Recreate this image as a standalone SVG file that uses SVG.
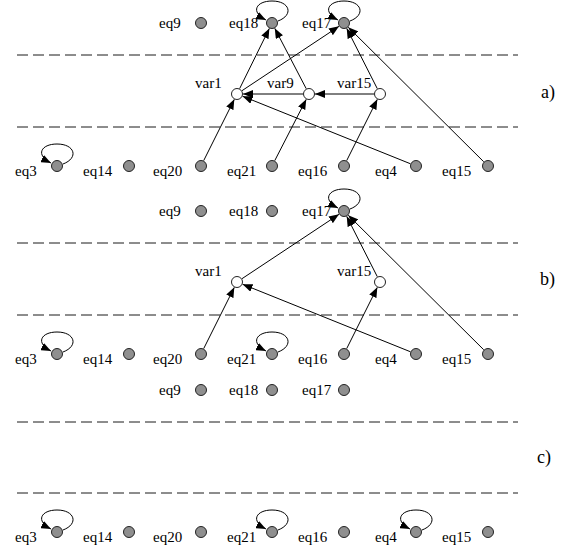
<svg xmlns="http://www.w3.org/2000/svg" width="565" height="546" viewBox="0 0 565 546">
<style>
  text { font-size: 15px; fill: #000; }
  text.panel { font-size: 18px; }
  .eq { fill: #8f8f8f; stroke: #222; stroke-width: 1; }
  .var { fill: #fff; stroke: #222; stroke-width: 1; }
  .edge { fill: none; stroke: #000; stroke-width: 1; marker-end: url(#arr); }
  .sep { stroke: #1a1a1a; stroke-width: 1; stroke-dasharray: 11 5; }
</style>
<defs>
  <marker id="arr" markerUnits="userSpaceOnUse" markerWidth="10" markerHeight="8" refX="10" refY="4" orient="auto">
    <path d="M0,0 L10,4 L0,8 z" fill="#000"/>
  </marker>
</defs>
<rect width="565" height="546" fill="#fff"/>

<g id="separators">
  <line class="sep" x1="17" y1="55" x2="518" y2="55"/>
  <line class="sep" x1="17" y1="127" x2="518" y2="127"/>
  <line class="sep" x1="17" y1="243" x2="518" y2="243"/>
  <line class="sep" x1="17" y1="315" x2="518" y2="315"/>
  <line class="sep" x1="17" y1="422" x2="518" y2="422"/>
  <line class="sep" x1="17" y1="493" x2="518" y2="493"/>
</g>

<g font-family="'Liberation Serif', 'Times New Roman', serif">
<g id="panel-labels">
  <text class="panel" x="541" y="98">a)</text>
  <text class="panel" x="540" y="285">b)</text>
  <text class="panel" x="537" y="463">c)</text>
</g>

<g id="connectors">
  <!-- a) -->
  <line class="edge" x1="239.65" y1="88.62" x2="269.35" y2="28.38"/>
  <line class="edge" x1="306.23" y1="88.68" x2="274.77" y2="28.32"/>
  <line class="edge" x1="242.0" y1="90.68" x2="339.0" y2="26.32"/>
  <line class="edge" x1="377.29" y1="88.65" x2="346.71" y2="28.35"/>
  <line class="edge" x1="483.74" y1="161.77" x2="348.26" y2="27.23"/>
  <line class="edge" x1="303" y1="94" x2="243" y2="94"/>
  <line class="edge" x1="374" y1="94" x2="315" y2="94"/>
  <line class="edge" x1="203.68" y1="160.63" x2="234.32" y2="99.37"/>
  <line class="edge" x1="274.74" y1="160.66" x2="306.26" y2="99.34"/>
  <line class="edge" x1="346.68" y1="160.63" x2="377.32" y2="99.37"/>
  <line class="edge" x1="410.43" y1="163.76" x2="242.57" y2="96.24"/>
  <path class="edge" d="M278,21 C294,15 290,1 272,1 C256,1 250,12 266,20"/>
  <path class="edge" d="M350,21 C366,15 362,1 344,1 C328,1 322,12 338,20"/>
  <path class="edge" d="M63,164 C79,158 75,144 57,144 C41,144 35,155 51,163"/>
  <!-- b) -->
  <line class="edge" x1="242.0" y1="278.68" x2="339.0" y2="214.32"/>
  <line class="edge" x1="377.29" y1="276.65" x2="346.71" y2="216.35"/>
  <line class="edge" x1="483.74" y1="349.77" x2="348.26" y2="215.23"/>
  <line class="edge" x1="203.68" y1="348.63" x2="234.32" y2="287.37"/>
  <line class="edge" x1="346.68" y1="348.63" x2="377.32" y2="287.37"/>
  <line class="edge" x1="410.43" y1="351.76" x2="242.57" y2="284.24"/>
  <path class="edge" d="M350,209 C366,203 362,189 344,189 C328,189 322,200 338,208"/>
  <path class="edge" d="M63,352 C79,346 75,332 57,332 C41,332 35,343 51,351"/>
  <path class="edge" d="M278,352 C294,346 290,332 272,332 C256,332 250,343 266,351"/>
  <!-- c) -->
  <path class="edge" d="M63,530 C79,524 75,510 57,510 C41,510 35,521 51,529"/>
  <path class="edge" d="M278,530 C294,524 290,510 272,510 C256,510 250,521 266,529"/>
  <path class="edge" d="M422,530 C438,524 434,510 416,510 C400,510 394,521 410,529"/>
</g>

<!-- a) nodes -->
<g id="a-eq9"><circle class="eq" cx="201" cy="23" r="5.5"/><text x="159" y="28">eq9</text></g>
<g id="a-eq18"><circle class="eq" cx="272" cy="23" r="5.5"/><text x="229" y="28">eq18</text></g>
<g id="a-eq17"><circle class="eq" cx="344" cy="23" r="5.5"/><text x="302" y="28">eq17</text></g>
<g id="a-var1"><circle class="var" cx="237" cy="94" r="5.5"/><text x="195" y="88">var1</text></g>
<g id="a-var9"><circle class="var" cx="309" cy="94" r="5.5"/><text x="267" y="88">var9</text></g>
<g id="a-var15"><circle class="var" cx="380" cy="94" r="5.5"/><text x="337" y="88">var15</text></g>
<g id="a-eq3"><circle class="eq" cx="57" cy="166" r="5.5"/><text x="15" y="176">eq3</text></g>
<g id="a-eq14"><circle class="eq" cx="129" cy="166" r="5.5"/><text x="83" y="176">eq14</text></g>
<g id="a-eq20"><circle class="eq" cx="201" cy="166" r="5.5"/><text x="153" y="176">eq20</text></g>
<g id="a-eq21"><circle class="eq" cx="272" cy="166" r="5.5"/><text x="227" y="176">eq21</text></g>
<g id="a-eq16"><circle class="eq" cx="344" cy="166" r="5.5"/><text x="298" y="176">eq16</text></g>
<g id="a-eq4"><circle class="eq" cx="416" cy="166" r="5.5"/><text x="375" y="176">eq4</text></g>
<g id="a-eq15"><circle class="eq" cx="488" cy="166" r="5.5"/><text x="442" y="176">eq15</text></g>

<!-- b) nodes -->
<g id="b-eq9"><circle class="eq" cx="201" cy="211" r="5.5"/><text x="159" y="216">eq9</text></g>
<g id="b-eq18"><circle class="eq" cx="272" cy="211" r="5.5"/><text x="229" y="216">eq18</text></g>
<g id="b-eq17"><circle class="eq" cx="344" cy="211" r="5.5"/><text x="302" y="216">eq17</text></g>
<g id="b-var1"><circle class="var" cx="237" cy="282" r="5.5"/><text x="195" y="276">var1</text></g>
<g id="b-var15"><circle class="var" cx="380" cy="282" r="5.5"/><text x="337" y="276">var15</text></g>
<g id="b-eq3"><circle class="eq" cx="57" cy="354" r="5.5"/><text x="15" y="364">eq3</text></g>
<g id="b-eq14"><circle class="eq" cx="129" cy="354" r="5.5"/><text x="83" y="364">eq14</text></g>
<g id="b-eq20"><circle class="eq" cx="201" cy="354" r="5.5"/><text x="153" y="364">eq20</text></g>
<g id="b-eq21"><circle class="eq" cx="272" cy="354" r="5.5"/><text x="227" y="364">eq21</text></g>
<g id="b-eq16"><circle class="eq" cx="344" cy="354" r="5.5"/><text x="298" y="364">eq16</text></g>
<g id="b-eq4"><circle class="eq" cx="416" cy="354" r="5.5"/><text x="375" y="364">eq4</text></g>
<g id="b-eq15"><circle class="eq" cx="488" cy="354" r="5.5"/><text x="442" y="364">eq15</text></g>

<!-- c) nodes -->
<g id="c-eq9"><circle class="eq" cx="201" cy="390" r="5.5"/><text x="159" y="395">eq9</text></g>
<g id="c-eq18"><circle class="eq" cx="272" cy="390" r="5.5"/><text x="229" y="395">eq18</text></g>
<g id="c-eq17"><circle class="eq" cx="344" cy="390" r="5.5"/><text x="302" y="395">eq17</text></g>
<g id="c-eq3"><circle class="eq" cx="57" cy="532" r="5.5"/><text x="15" y="542">eq3</text></g>
<g id="c-eq14"><circle class="eq" cx="129" cy="532" r="5.5"/><text x="83" y="542">eq14</text></g>
<g id="c-eq20"><circle class="eq" cx="201" cy="532" r="5.5"/><text x="153" y="542">eq20</text></g>
<g id="c-eq21"><circle class="eq" cx="272" cy="532" r="5.5"/><text x="227" y="542">eq21</text></g>
<g id="c-eq16"><circle class="eq" cx="344" cy="532" r="5.5"/><text x="298" y="542">eq16</text></g>
<g id="c-eq4"><circle class="eq" cx="416" cy="532" r="5.5"/><text x="375" y="542">eq4</text></g>
<g id="c-eq15"><circle class="eq" cx="488" cy="532" r="5.5"/><text x="442" y="542">eq15</text></g>
</g>
</svg>
